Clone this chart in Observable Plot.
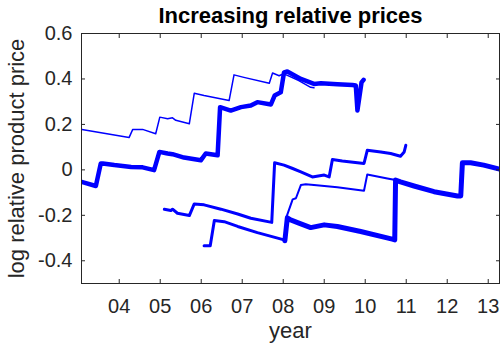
<!DOCTYPE html>
<html><head><meta charset="utf-8">
<script src="https://cdn.jsdelivr.net/npm/d3@7"></script>
<script src="https://cdn.jsdelivr.net/npm/@observablehq/plot@0.6"></script>
<style>body{margin:0;background:#fff;}</style>
</head><body><div id="chart"></div>
<script>
const title = "Increasing relative prices";
const xLabel = "year";
const yLabel = "log relative product price";
const xTicks = [2004, 2005, 2006, 2007, 2008, 2009, 2010, 2011, 2012, 2013];
const xTickLabels = ["04", "05", "06", "07", "08", "09", "10", "11", "12", "13"];
const yTicks = [-0.4, -0.2, 0, 0.2, 0.4, 0.6];
const yTickLabels = ["-0.4", "-0.2", "0", "0.2", "0.4", "0.6"];
const xDomain = [2003.08, 2013.275];
const yDomain = [-0.5, 0.6];

// Series (year, log relative price)
const aYears = [2003.09, 2004.24, 2004.33, 2004.57, 2004.89, 2004.99, 2005.18, 2005.30, 2005.38, 2005.71, 2005.83, 2006.07, 2006.68, 2006.80, 2007.04, 2007.66, 2007.74, 2007.90, 2008.01, 2008.06, 2008.38, 2008.67, 2008.75];
const aValues = [0.178, 0.142, 0.178, 0.178, 0.159, 0.232, 0.225, 0.229, 0.218, 0.203, 0.337, 0.327, 0.305, 0.418, 0.407, 0.381, 0.426, 0.414, 0.423, 0.419, 0.393, 0.363, 0.361];

const bYears = [2003.08, 2003.43, 2003.55, 2003.60, 2003.88, 2004.29, 2004.57, 2004.85, 2004.98, 2005.18, 2005.30, 2005.58, 2005.99, 2006.11, 2006.40, 2006.46, 2006.72, 2006.97, 2007.21, 2007.37, 2007.70, 2007.79, 2007.94, 2008.02, 2008.10, 2008.43, 2008.75, 2008.92, 2009.32, 2009.69, 2009.77, 2009.81, 2009.91, 2009.96];
const bValues = [-0.053, -0.071, 0.028, 0.028, 0.021, 0.013, 0.011, -0.001, 0.079, 0.072, 0.069, 0.054, 0.042, 0.072, 0.064, 0.276, 0.261, 0.276, 0.283, 0.298, 0.288, 0.327, 0.341, 0.429, 0.433, 0.400, 0.378, 0.381, 0.377, 0.373, 0.371, 0.261, 0.385, 0.396];

const cYears = [2005.10, 2005.26, 2005.30, 2005.42, 2005.71, 2005.83, 2006.07, 2006.48, 2006.89, 2007.21, 2007.72, 2007.79, 2008.02, 2008.23, 2008.43, 2008.71, 2009.00, 2009.12, 2009.20, 2009.44, 2009.97, 2010.05, 2010.38, 2010.62, 2010.86, 2010.95, 2010.99];
const cValues = [-0.173, -0.179, -0.173, -0.191, -0.201, -0.150, -0.154, -0.173, -0.194, -0.213, -0.231, 0.031, 0.021, 0.006, -0.009, -0.031, -0.023, -0.031, 0.046, 0.039, 0.028, 0.086, 0.079, 0.072, 0.060, 0.079, 0.108];

const dYears = [2006.07, 2006.22, 2006.32, 2006.56, 2006.89, 2007.37, 2008.02];
const dValues = [-0.334, -0.334, -0.223, -0.228, -0.249, -0.276, -0.308];

const eYears = [2008.04, 2008.10, 2008.18, 2008.35, 2008.67, 2009.00, 2009.32, 2009.89, 2010.66, 2010.72, 2010.74, 2010.86, 2011.19, 2011.68, 2012.25, 2012.33, 2012.37, 2012.57, 2012.89, 2013.30];
const eValues = [-0.312, -0.211, -0.220, -0.232, -0.254, -0.242, -0.249, -0.271, -0.305, -0.308, -0.045, -0.053, -0.071, -0.096, -0.115, -0.115, 0.031, 0.031, 0.021, 0.002];

const fYears = [2008.08, 2008.23, 2008.31, 2008.43, 2008.55, 2008.75, 2009.32, 2009.97, 2010.05, 2010.54, 2010.74];
const fValues = [-0.207, -0.130, -0.125, -0.067, -0.063, -0.067, -0.077, -0.092, -0.020, -0.038, -0.045];

const rows = (xs, ys) => xs.map((x, i) => ({x, y: ys[i]}));
const font = "'Liberation Sans', Arial, Helvetica, sans-serif";
const ink = "#262626";
const blue = "#0000ff";
const lineMark = (xs, ys, w) => Plot.line(rows(xs, ys), {
  x: "x", y: "y", stroke: blue, strokeWidth: w, clip: true,
  strokeLinejoin: "round", strokeLinecap: "round"
});
const xFmt = d => xTickLabels[xTicks.indexOf(d)];
const yFmt = d => yTickLabels[yTicks.indexOf(d)];

const chart = Plot.plot({
  width: 501, height: 346,
  marginLeft: 81, marginRight: 2, marginTop: 33, marginBottom: 63,
  style: {fontFamily: font, background: "#fff", color: ink},
  x: {domain: xDomain},
  y: {domain: yDomain},
  marks: [
    lineMark(aYears, aValues, 1.5),
    lineMark(fYears, fValues, 2),
    lineMark(cYears, cValues, 3),
    lineMark(dYears, dValues, 3),
    lineMark(bYears, bValues, 4.5),
    lineMark(eYears, eValues, 5),
    Plot.frame({stroke: ink, strokeWidth: 1}),
    Plot.axisX(xTicks, {anchor: "bottom", tickSize: -4, tickPadding: 19, tickFormat: xFmt, fontSize: 20, label: null, stroke: ink, fill: ink}),
    Plot.axisX(xTicks, {anchor: "top", tickSize: -4, tickFormat: () => "", label: null, stroke: ink}),
    Plot.axisY(yTicks, {anchor: "left", tickSize: -4, tickPadding: 13, tickFormat: yFmt, fontSize: 20, label: null, stroke: ink, fill: ink}),
    Plot.axisY(yTicks, {anchor: "right", tickSize: -4, tickFormat: () => "", label: null, stroke: ink}),
    Plot.text([title], {text: d => d, frameAnchor: "top", textAnchor: "middle", dy: -10.3, lineAnchor: "bottom", fontSize: 22, fontWeight: "bold", fill: "#000"}),
    Plot.text([xLabel], {text: d => d, frameAnchor: "bottom", textAnchor: "middle", dy: 54, lineAnchor: "bottom", fontSize: 22, fill: ink}),
    Plot.text([yLabel], {text: d => d, frameAnchor: "left", textAnchor: "middle", dx: -58, rotate: -90, lineAnchor: "bottom", fontSize: 22, fill: ink})
  ]
});
document.getElementById("chart").appendChild(chart);
</script>
</body></html>
